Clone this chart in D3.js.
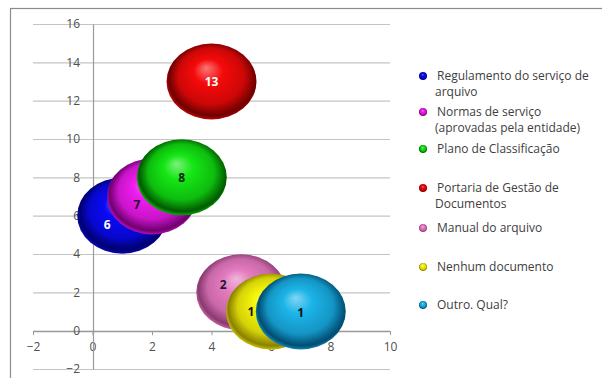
<!DOCTYPE html>
<html>
<head>
<meta charset="utf-8">
<script src="https://cdn.jsdelivr.net/npm/d3@7"></script>
<style>
  html, body { margin: 0; padding: 0; background: #fff; }
  #svgContainer { width: 602px; height: 378px; }
</style>
</head>
<body>
<div id="svgContainer"></div>
<script>
// chart data
var categories = [
    "Regulamento do serviço de arquivo",
    "Normas de serviço (aprovadas pela entidade)",
    "Plano de Classificação",
    "Portaria de Gestão de Documentos",
    "Manual do arquivo",
    "Nenhum documento",
    "Outro. Qual?"
];
var legendLines = [
    ["Regulamento do serviço de", "arquivo"],
    ["Normas de serviço", "(aprovadas pela entidade)"],
    ["Plano de Classificação"],
    ["Portaria de Gestão de", "Documentos"],
    ["Manual do arquivo"],
    ["Nenhum documento"],
    ["Outro. Qual?"]
];
var xValues = [1, 2, 3, 4, 5, 6, 7];
var yValues = [6, 7, 8, 13, 2, 1, 1];
var xTicks = [-2, 0, 2, 4, 6, 8, 10];
var yTicks = [-2, 0, 2, 4, 6, 8, 10, 12, 14, 16];

// styling
var baseColors = ["#0a0af5", "#f01cf0", "#14e614", "#f50a0a", "#e47cc0", "#f5f50a", "#1cb4e8"];
var darkColors = ["#00006e", "#6e006e", "#005a00", "#6e0000", "#8a3a70", "#8a8000", "#004c70"];
var labelColors = ["#fff", "#2a0a2a", "#0a2a0a", "#fff", "#1a1a2a", "#111", "#111"];
var labelNudge = [[-15, 9], [-15, 8], [0, 0], [0, 0], [-18, -8], [-20, 0], [0, 1]];
var legendY = [76, 112, 149, 188, 228, 267, 305];

var width = 602, height = 378;

var svg = d3.select("#svgContainer").append("svg")
    .attr("width", width)
    .attr("height", height)
    .style("display", "block");

// outer frame
svg.append("rect")
    .attr("x", 10.5).attr("y", 8.5)
    .attr("width", 620).attr("height", 400)
    .attr("fill", "none")
    .attr("stroke", "#8c8c8c")
    .attr("stroke-width", 1.2);

var x = d3.scaleLinear().domain([-2, 10]).range([33, 390]);
var y = d3.scaleLinear().domain([-2, 16]).range([369, 24]);

var defs = svg.append("defs");
baseColors.forEach((c, i) => {
    var g = defs.append("radialGradient")
        .attr("id", "bub" + i)
        .attr("cx", "52%").attr("cy", "48%").attr("r", "54%")
        .attr("fx", "44%").attr("fy", "32%");
    g.append("stop").attr("offset", "0%").attr("stop-color", d3.interpolateRgb(c, "#fff")(0.45));
    g.append("stop").attr("offset", "30%").attr("stop-color", c);
    g.append("stop").attr("offset", "68%").attr("stop-color", d3.interpolateRgb(c, darkColors[i])(0.3));
    g.append("stop").attr("offset", "90%").attr("stop-color", darkColors[i]);
    g.append("stop").attr("offset", "100%").attr("stop-color", d3.interpolateRgb(darkColors[i], c)(0.75));
});

// gridlines
svg.append("g")
    .selectAll("line")
    .data(yTicks)
    .enter().append("line")
    .attr("x1", x(-2)).attr("x2", x(10))
    .attr("y1", d => y(d) + 0.5).attr("y2", d => y(d) + 0.5)
    .attr("stroke", "#c4c4c4")
    .attr("stroke-width", 1.2);

// axes
var xAxis = svg.append("g")
    .attr("transform", "translate(0," + (y(0) + 0.5) + ")")
    .call(d3.axisBottom(x).tickValues(xTicks).tickSize(4).tickSizeOuter(0).tickPadding(9));
var yAxis = svg.append("g")
    .attr("transform", "translate(" + (x(0) + 0.5) + ",0)")
    .call(d3.axisLeft(y).tickValues(yTicks).tickSize(0).tickPadding(13));

[xAxis, yAxis].forEach(a => {
    a.select(".domain").attr("stroke", "#9a9a9a").attr("stroke-width", 1.2);
    a.selectAll(".tick line").attr("stroke", "#9a9a9a");
    a.selectAll("text")
        .attr("fill", "#505050")
        .attr("font-family", "'Open Sans', sans-serif")
        .attr("font-size", 12);
});
xAxis.selectAll("text").attr("dy", "0.6em");

// bubbles
var rx = 45, ry = 38;
var points = xValues.map((v, i) => ({ x: v, y: yValues[i], i: i }));

svg.append("g")
    .selectAll("ellipse")
    .data(points)
    .enter().append("ellipse")
    .attr("cx", d => x(d.x))
    .attr("cy", d => y(d.y))
    .attr("rx", rx).attr("ry", ry)
    .attr("fill", d => "url(#bub" + d.i + ")");

svg.append("g")
    .selectAll("text")
    .data(points)
    .enter().append("text")
    .attr("x", d => x(d.x) + labelNudge[d.i][0])
    .attr("y", d => y(d.y) + labelNudge[d.i][1])
    .attr("dy", "0.35em")
    .attr("text-anchor", "middle")
    .attr("font-family", "'Open Sans', sans-serif")
    .attr("font-weight", "bold")
    .attr("font-size", 12)
    .attr("fill", d => labelColors[d.i])
    .text(d => d.y);

// legend
var legend = svg.append("g")
    .selectAll("g")
    .data(categories)
    .enter().append("g")
    .attr("transform", (d, i) => "translate(0," + legendY[i] + ")");

legend.append("circle")
    .attr("cx", 423).attr("cy", 0).attr("r", 4)
    .attr("fill", (d, i) => "url(#bub" + i + ")");

legend.append("text")
    .attr("font-family", "'Open Sans', sans-serif")
    .attr("font-size", 12)
    .attr("fill", "#404040")
    .selectAll("tspan")
    .data((d, i) => legendLines[i])
    .enter().append("tspan")
    .attr("x", (d, j) => j == 0 ? 437 : 435)
    .attr("y", (d, j) => j * 16)
    .attr("dy", "0.35em")
    .text(d => d);
</script>
</body>
</html>
